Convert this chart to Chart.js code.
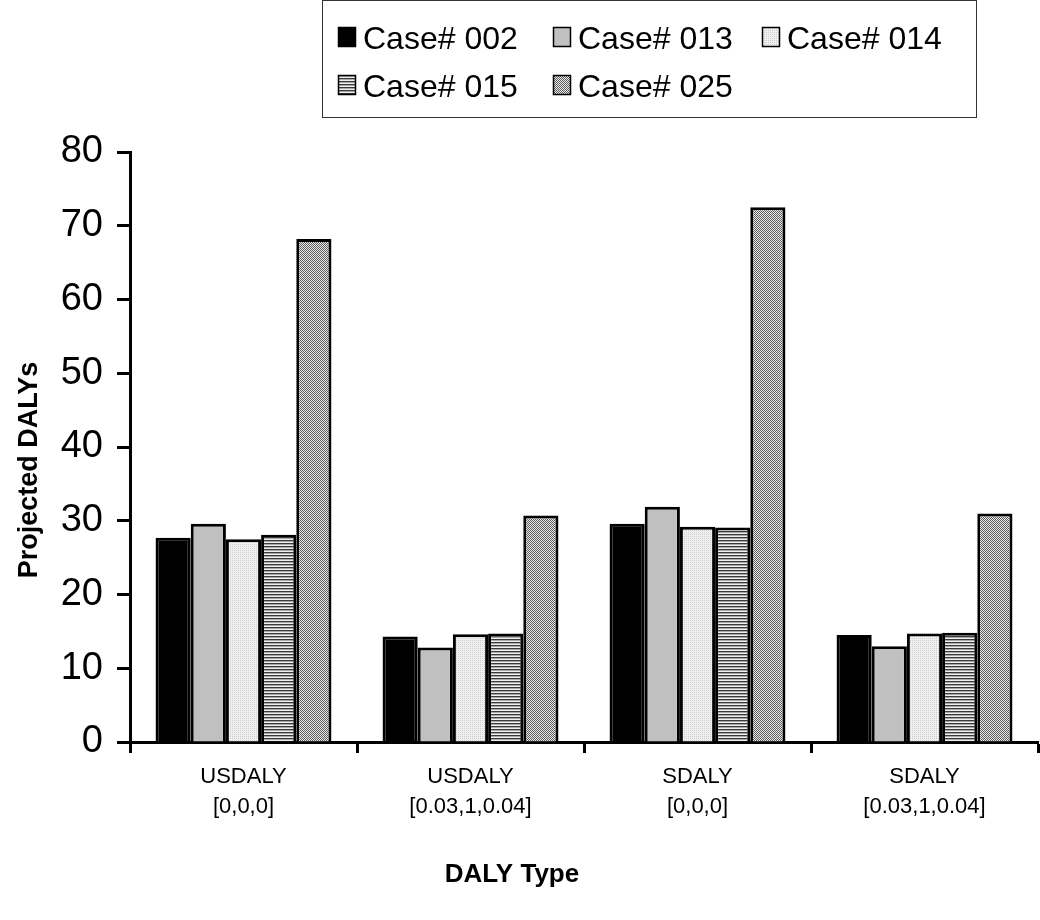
<!DOCTYPE html>
<html>
<head>
<meta charset="utf-8">
<script src="https://cdn.jsdelivr.net/npm/chart.js@4.4.1/dist/chart.umd.min.js"></script>
<style>
html,body{margin:0;padding:0;background:#fff;}
#wrap{position:relative;width:1040px;height:920px;}
</style>
</head>
<body>
<div id="wrap"><canvas id="c" width="1040" height="920"></canvas></div>
<script>
const categories = [["USDALY","[0,0,0]"],["USDALY","[0.03,1,0.04]"],["SDALY","[0,0,0]"],["SDALY","[0.03,1,0.04]"]];
const seriesNames = ["Case# 002","Case# 013","Case# 014","Case# 015","Case# 025"];
const case002 = [27.7, 14.3, 29.6, 14.5];
const case013 = [29.6, 12.8, 31.9, 13.0];
const case014 = [27.5, 14.6, 29.2, 14.7];
const case015 = [28.1, 14.7, 29.1, 14.8];
const case025 = [68.2, 30.7, 72.5, 31.0];
const yTicks = [0,10,20,30,40,50,60,70,80];
const xTitle = "DALY Type";
const yTitle = "Projected DALYs";

const FONT = "'Liberation Sans', Arial, Helvetica, sans-serif";

function makePattern(w, h, fn) {
  const c = document.createElement('canvas');
  c.width = w; c.height = h;
  const x = c.getContext('2d');
  for (let i = 0; i < w; i++) for (let j = 0; j < h; j++) {
    x.fillStyle = fn(i, j);
    x.fillRect(i, j, 1, 1);
  }
  return x.createPattern(c, 'repeat');
}
const pat014 = makePattern(2, 2, (i, j) => (i === 0 && j === 0) ? '#cccccc' : '#f0f0f0');
const pat015 = makePattern(1, 3, (i, j) => ['#3a3a3a', '#a8a8a8', '#eeeeee'][j]);
const pat025 = makePattern(2, 2, (i, j) => ((i + j) % 2 === 0) ? '#5c5c5c' : '#eaeaea');

const fills = ['#000000', '#c0c0c0', pat014, pat015, pat025];
const values = [case002, case013, case014, case015, case025];

const datasets = seriesNames.map((n, k) => ({
  label: n,
  data: values[k],
  backgroundColor: fills[k],
  borderColor: '#000',
  borderWidth: 3,
  borderSkipped: 'bottom',
  categoryPercentage: 0.775,
  barPercentage: 1.0
}));

const extras = {
  id: 'extras',
  afterDraw(chart) {
    const ctx = chart.ctx;
    ctx.save();
    // legend box
    ctx.strokeStyle = '#333';
    ctx.lineWidth = 1;
    ctx.strokeRect(322.5, 0.5, 654, 117);
    ctx.font = '32px ' + FONT;
    ctx.textBaseline = 'alphabetic';
    ctx.textAlign = 'left';
    const rows = [[0,1,2],[3,4]];
    const baseY = [49, 97];
    const colX = [338, 553, 762];
    rows.forEach((r, ri) => {
      r.forEach((k, ci) => {
        const ds = chart.data.datasets[k];
        const x = colX[ci];
        const y = baseY[ri];
        ctx.fillStyle = ds.backgroundColor;
        ctx.fillRect(x, y - 22, 18, 20);
        ctx.strokeStyle = '#000';
        ctx.lineWidth = 1.5;
        ctx.strokeRect(x + 0.5, y - 21.5, 17, 19);
        ctx.fillStyle = '#000';
        ctx.fillText(ds.label, x + 25, y);
      });
    });
    // axis titles
    ctx.fillStyle = '#000';
    ctx.font = 'bold 26px ' + FONT;
    ctx.textAlign = 'center';
    ctx.textBaseline = 'middle';
    ctx.fillText(xTitle, 512, 875);
    ctx.translate(30, 470);
    ctx.rotate(-Math.PI / 2);
    ctx.font = 'bold 27px ' + FONT;
    ctx.fillText(yTitle, 0, 0);
    ctx.restore();
  }
};

new Chart(document.getElementById('c'), {
  type: 'bar',
  data: { labels: categories, datasets },
  options: {
    responsive: false,
    animation: false,
    devicePixelRatio: 1,
    layout: { padding: { top: 152, left: 0, right: 2, bottom: 0 } },
    plugins: { legend: { display: false }, tooltip: { enabled: false } },
    scales: {
      x: {
        grid: { display: true, offset: true, drawOnChartArea: false, drawTicks: true, tickLength: 11, tickWidth: 3, tickColor: '#000' },
        border: { display: true, color: '#000', width: 3 },
        ticks: { color: '#000', font: { family: FONT, size: 22, lineHeight: 1.36 }, padding: 9, maxRotation: 0, autoSkip: false },
        title: { display: false },
        afterFit(s) { s.height = 178; s.paddingLeft = 0; s.paddingRight = 0; }
      },
      y: {
        min: 0, max: 80,
        afterBuildTicks(s) { s.ticks = yTicks.map(v => ({ value: v })); },
        grid: { display: true, drawOnChartArea: false, drawTicks: true, tickLength: 13, tickWidth: 3, tickColor: '#000' },
        border: { display: true, color: '#000', width: 3 },
        ticks: { color: '#000', font: { family: FONT, size: 38 }, padding: 14 },
        title: { display: false },
        afterFit(s) { s.width = 130; s.paddingTop = 0; s.paddingBottom = 0; }
      }
    }
  },
  plugins: [extras]
});
</script>
</body>
</html>
